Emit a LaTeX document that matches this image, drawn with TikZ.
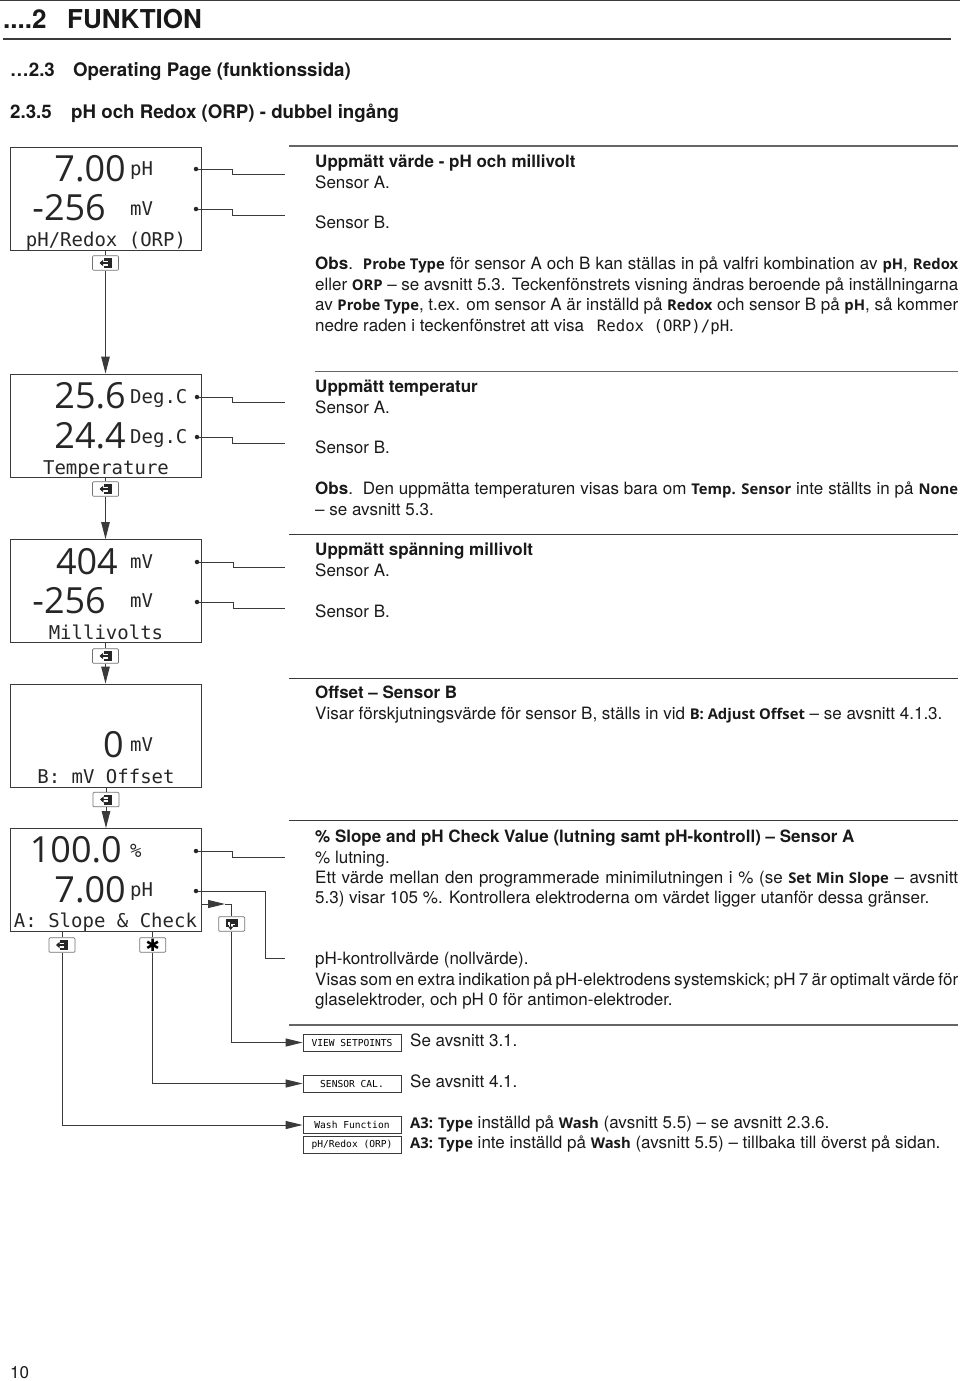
\documentclass[tikz,border=0pt]{standalone}
\usepackage{fontspec}
\usetikzlibrary{arrows.meta}
\setmainfont{TeX Gyre Heros}
\newfontfamily\digitfont{Open Sans}
\newfontfamily\lcdfont{DejaVu Sans Mono}
\newfontfamily\menufont{Open Sans}
\newfontfamily\symbfont{DejaVu Sans}
\newcommand{\mn}[1]{{\menufont\fontsize{14.8}{14}\selectfont\bfseries #1}}
\newcommand{\fullline}[1]{\makebox[643pt][s]{#1}}
\definecolor{inkline}{HTML}{3A3A3A}
\tikzset{
  bodytext/.style={anchor=base west,inner sep=0pt,font=\fontsize{17}{19}\selectfont,text=black!90},
  headtext/.style={bodytext,font=\fontsize{17}{19}\selectfont\bfseries},
  sectext/.style={anchor=base west,inner sep=0pt,font=\fontsize{18.7}{22}\selectfont\bfseries,text=black!90},
  display/.style={draw=inkline,line width=0.9pt,minimum width=191pt,minimum height=103pt,inner sep=0pt},
  bigdigit/.style={anchor=base east,inner sep=0pt,font=\digitfont\fontsize{36}{40}\selectfont,text=black!85},
  lcdunit/.style={anchor=base west,inner sep=0pt,font=\lcdfont\fontsize{19}{22}\selectfont,text=black!85},
  lcdtitle/.style={anchor=base,inner sep=0pt,font=\lcdfont\fontsize{19}{22}\selectfont,text=black!85},
  keybox/.style={draw=black!55,line width=0.7pt,fill=white,rounded corners=1pt,minimum width=26pt,minimum height=14.5pt,inner sep=0pt},
  menubox/.style={draw=inkline,line width=0.8pt,minimum width=98pt,minimum height=17pt,inner sep=0pt,font=\lcdfont\fontsize{9.6}{11}\selectfont},
  rulethin/.style={draw=inkline,line width=1pt},
  conn/.style={draw=inkline,line width=1pt},
  flow/.style={conn,-{Triangle[length=17pt,width=8.5pt]}},
  flowh/.style={conn,-{Triangle[length=17pt,width=8pt]}},
  dotmark/.style={circle,fill=black!85,minimum size=4.5pt,inner sep=0pt}
}
\begin{document}
\begin{tikzpicture}[x=1pt,y=-1pt]
    \useasboundingbox (0,0) rectangle (960,1381);

    % page heading
    \draw[draw=inkline,line width=1.2pt] (0,0.6) -- (960,0.6);
    \draw[draw=inkline,line width=1.2pt] (3,39) -- (951,39);
    \node[sectext,font=\fontsize{26}{30}\selectfont\bfseries] (chapnum) at (3,29) {....2};
    \node[sectext,font=\fontsize{26}{30}\selectfont\bfseries] (chapname) at (67,29) {FUNKTION};
    \node[sectext] (secnum) at (10,77) {\dots2.3};
    \node[sectext] (secname) at (73,77) {Operating Page (funktionssida)};
    \node[sectext] (subnum) at (10,118) {2.3.5};
    \node[sectext] (subname) at (71,118) {pH och Redox (ORP) - dubbel ingång};

    % displays
    \node[display] (phdisp) at (105.5,198.5) {};
    \node[display] (tempdisp) at (106,425.5) {};
    \node[display] (mvdisp) at (106,591) {};
    \node[display] (offdisp) at (106.3,735.5) {};
    \node[display] (slopedisp) at (105.5,880) {};

    \node[bigdigit] (phval) at (126,181) {7.00};
    \node[bigdigit] (mvval) at (106,220) {-256};
    \node[lcdunit] (phunit) at (130,175) {pH};
    \node[lcdunit] (mvunit) at (130,215) {mV};
    \node[lcdtitle] (phtitle) at (106,246) {pH/Redox (ORP)};

    \node[bigdigit] (tempa) at (126,408) {25.6};
    \node[bigdigit] (tempb) at (126,448) {24.4};
    \node[lcdunit] (tempaunit) at (130,403) {Deg.C};
    \node[lcdunit] (tempbunit) at (130,443) {Deg.C};
    \node[lcdtitle] (temptitle) at (106,474) {Temperature};

    \node[bigdigit] (mva) at (118,574) {404};
    \node[bigdigit] (mvb) at (106,613) {-256};
    \node[lcdunit] (mvaunit) at (130,568) {mV};
    \node[lcdunit] (mvbunit) at (130,607) {mV};
    \node[lcdtitle] (mvtitle) at (106,639) {Millivolts};

    \node[bigdigit] (offval) at (124,757) {0};
    \node[lcdunit] (offunit) at (130,751) {mV};
    \node[lcdtitle] (offtitle) at (106,783) {B: mV Offset};

    \node[bigdigit] (slopeval) at (122,862) {100.0};
    \node[bigdigit] (checkval) at (126,902) {7.00};
    \node[lcdunit] (slopeunit) at (130,857) {\%};
    \node[lcdunit] (checkunit) at (130,896) {pH};
    \node[lcdtitle] (slopetitle) at (105.5,927) {A: Slope \& Check};

    % keys
    \node[keybox] (keyph) at (105.5,263) {};
    \node[keybox] (keytemp) at (105.5,489) {};
    \node[keybox] (keymv) at (105.5,656) {};
    \node[keybox] (keyoff) at (106,799.5) {};
    \node[keybox] (keyexit) at (62,945) {};
    \node[keybox,font=\symbfont\fontsize{17}{17}\selectfont] (keystar) at (152.7,945) {✱};
    \node[keybox] (keyback) at (231.7,924) {};

    \foreach \keyname in {keyph,keytemp,keymv,keyoff,keyexit} {
      \fill[black!85] ([xshift=-2pt,yshift=-5pt]\keyname.center) rectangle ([xshift=6pt,yshift=5pt]\keyname.center);
      \fill[white] ([xshift=-2pt,yshift=-2.5pt]\keyname.center) rectangle ([xshift=2pt,yshift=2.5pt]\keyname.center);
      \draw[black!85,line width=1.4pt,-{Triangle[length=3.5pt,width=6pt]}] ([xshift=2pt]\keyname.center) -- ([xshift=-6pt]\keyname.center);
    }
    \fill[black!85] ([xshift=-6pt,yshift=5pt]keyback.center) rectangle ([xshift=6pt,yshift=-3pt]keyback.center);
    \fill[white] ([xshift=-3.5pt,yshift=2.5pt]keyback.center) rectangle ([xshift=3.5pt,yshift=-1pt]keyback.center);
    \fill[white] ([xshift=-3pt,yshift=-1pt]keyback.center) rectangle ([xshift=1pt,yshift=-3.5pt]keyback.center);
    \draw[black!85,line width=1.2pt,-{Triangle[length=3.5pt,width=5pt]}] ([xshift=3pt,yshift=1pt]keyback.center) -- ([xshift=-1pt,yshift=1pt]keyback.center) -- ([xshift=-1pt,yshift=-6pt]keyback.center);

    % menu boxes
    \node[menubox] (viewbox) at (352,1042.5) {VIEW SETPOINTS};
    \node[menubox] (calbox) at (352,1083.5) {SENSOR CAL.};
    \node[menubox] (washbox) at (352,1125) {Wash Function};
    \node[menubox] (redoxbox) at (352,1145) {pH/Redox (ORP)};

    % page flow
    \draw[conn] (phdisp.south) -- (keyph.north);
    \draw[flow] (keyph.south) -- (tempdisp.north -| keyph.south);
    \draw[conn] (tempdisp.south -| keytemp.north) -- (keytemp.north);
    \draw[flow] (keytemp.south) -- (mvdisp.north -| keytemp.south);
    \draw[conn] (mvdisp.south -| keymv.north) -- (keymv.north);
    \draw[flow] (keymv.south) -- (offdisp.north -| keymv.south);
    \draw[conn] (offdisp.south -| keyoff.north) -- (keyoff.north);
    \draw[flow] (keyoff.south) -- (slopedisp.north -| keyoff.south);

    % value pointers
    \node[dotmark] (dotpha) at (196,169) {};
    \node[dotmark] (dotphb) at (196,209) {};
    \node[dotmark] (dottempa) at (197,397) {};
    \node[dotmark] (dottempb) at (197,437) {};
    \node[dotmark] (dotmva) at (197,562) {};
    \node[dotmark] (dotmvb) at (197,602) {};
    \node[dotmark] (dotslope) at (196,851) {};
    \node[dotmark] (dotcheck) at (196,891) {};

    \coordinate (endpha) at (285,174);
    \coordinate (endphb) at (285,215);
    \coordinate (endtempa) at (285,402);
    \coordinate (endtempb) at (285,443);
    \coordinate (endmva) at (285,567);
    \coordinate (endmvb) at (285,608);
    \coordinate (endslope) at (285,857);
    \coordinate (endcheck) at (285,958);

    \draw[conn] (dotpha) -- (232,169) -- (232,174) -- (endpha);
    \draw[conn] (dotphb) -- (232,209) -- (232,215) -- (endphb);
    \draw[conn] (dottempa) -- (232,397) -- (232,402) -- (endtempa);
    \draw[conn] (dottempb) -- (232,437) -- (232,443) -- (endtempb);
    \draw[conn] (dotmva) -- (233,562) -- (233,567) -- (endmva);
    \draw[conn] (dotmvb) -- (233,602) -- (233,608) -- (endmvb);
    \draw[conn] (dotslope) -- (232,851) -- (232,857) -- (endslope);
    \draw[conn] (dotcheck) -- (265,891) -- (265,958) -- (endcheck);

    % exits of the last display
    \coordinate (backout) at (slopedisp.east |- 0,904);
    \coordinate (backtip) at (225,904);
    \draw[flowh] (backout) -- (backtip);
    \draw[conn] (backtip) -| (keyback.north);
    \draw[flowh] (keyback.south) |- (viewbox.west);
    \draw[conn] (slopedisp.south -| keyexit.north) -- (keyexit.north);
    \draw[conn] (slopedisp.south -| keystar.north) -- (keystar.north);
    \draw[flowh] (keystar.south) |- (calbox.west);
    \draw[flowh] (keyexit.south) |- (washbox.west);

    % rules on the right
    \draw[draw=black!60,line width=1.8pt] (289,146) -- (958,146);
    \draw[draw=black!60,line width=1pt] (315,371) -- (958,371);
    \draw[rulethin] (289,534) -- (958,534);
    \draw[rulethin] (289,678) -- (958,678);
    \draw[rulethin] (289,820) -- (958,820);
    \draw[draw=black!60,line width=1.2pt] (289,1025) -- (958,1025);

    % text on the right
    \node[headtext] (phhead) at (315,167) {Uppmätt värde - pH och millivolt};
    \node[bodytext] (phsensa) at (315,188) {Sensor A.};
    \node[bodytext] (phsensb) at (315,228.5) {Sensor B.};
    \node[bodytext] (phobsa) at (315,269.5) {\fullline{\textbf{Obs}.\ \ \mn{Probe Type} för sensor A och B kan ställas in på valfri kombination av \mn{pH}, \mn{Redox}}};
    \node[bodytext] (phobsb) at (315,290) {\fullline{eller \mn{ORP} -- se avsnitt 5.3. Teckenfönstrets visning ändras beroende på inställningarna}};
    \node[bodytext] (phobsc) at (315,310.5) {\fullline{av \mn{Probe Type}, t.ex. om sensor A är inställd på \mn{Redox} och sensor B på \mn{pH}, så kommer}};
    \node[bodytext] (phobsd) at (315,331) {nedre raden i teckenfönstret att visa\hspace{8pt} {\lcdfont\fontsize{15.7}{17}\selectfont Redox (ORP)/pH}.};

    \node[headtext] (temphead) at (315,392) {Uppmätt temperatur};
    \node[bodytext] (tempsensa) at (315,413) {Sensor A.};
    \node[bodytext] (tempsensb) at (315,453.5) {Sensor B.};
    \node[bodytext] (tempobsa) at (315,494.5) {\fullline{\textbf{Obs}.\ \ Den uppmätta temperaturen visas bara om \mn{Temp. Sensor} inte ställts in på \mn{None}}};
    \node[bodytext] (tempobsb) at (315,515.5) {-- se avsnitt 5.3.};

    \node[headtext] (mvhead) at (315,555.5) {Uppmätt spänning millivolt};
    \node[bodytext] (mvsensa) at (315,576) {Sensor A.};
    \node[bodytext] (mvsensb) at (315,617) {Sensor B.};

    \node[headtext] (offhead) at (315,698.5) {Offset -- Sensor B};
    \node[bodytext] (offnote) at (315,719.5) {Visar förskjutningsvärde för sensor B, ställs in vid \mn{B: Adjust Offset} -- se avsnitt 4.1.3.};

    \node[headtext] (slopehead) at (315,842) {\% Slope and pH Check Value (lutning samt pH-kontroll) -- Sensor A};
    \node[bodytext] (slopea) at (315,863) {\% lutning.};
    \node[bodytext] (slopeb) at (315,883.5) {\fullline{Ett värde mellan den programmerade minimilutningen i \% (se \mn{Set Min Slope} -- avsnitt}};
    \node[bodytext] (slopec) at (315,903.5) {5.3) visar 105 \%. Kontrollera elektroderna om värdet ligger utanför dessa gränser.};
    \node[bodytext] (checka) at (315,964.5) {pH-kontrollvärde (nollvärde).};
    \node[bodytext] (checkb) at (315,985.5) {\fullline{Visas som en extra indikation på pH-elektrodens systemskick; pH 7 är optimalt värde för}};
    \node[bodytext] (checkc) at (315,1005.5) {glaselektroder, och pH 0 för antimon-elektroder.};

    \node[bodytext] (viewref) at (410,1046.5) {Se avsnitt 3.1.};
    \node[bodytext] (calref) at (410,1087.5) {Se avsnitt 4.1.};
    \node[bodytext] (washref) at (410,1128.5) {\mn{A3: Type} inställd på \mn{Wash} (avsnitt 5.5) -- se avsnitt 2.3.6.};
    \node[bodytext] (redoxref) at (410,1148.5) {\mn{A3: Type} inte inställd på \mn{Wash} (avsnitt 5.5) -- tillbaka till överst på sidan.};

    \node[bodytext] (pagenum) at (10,1378) {10};
  \end{tikzpicture}
\end{document}
